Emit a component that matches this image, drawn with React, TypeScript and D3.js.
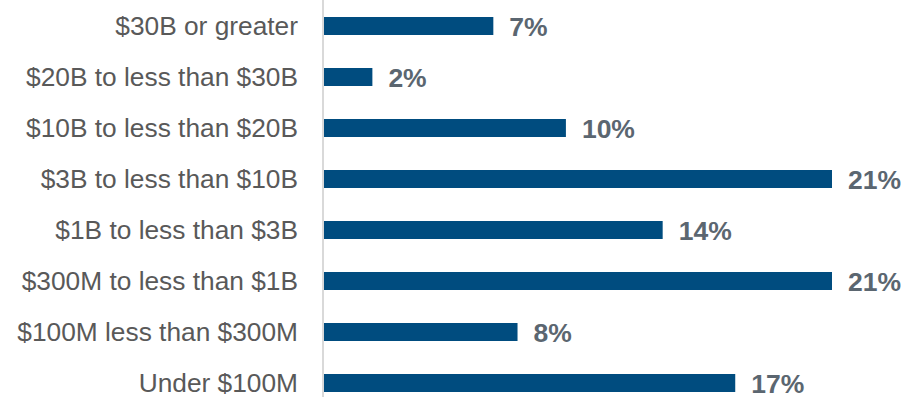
import React from "react";
import * as d3 from "d3";

const categories = [
  "$30B or greater",
  "$20B to less than $30B",
  "$10B to less than $20B",
  "$3B to less than $10B",
  "$1B to less than $3B",
  "$300M to less than $1B",
  "$100M less than $300M",
  "Under $100M",
];
const values = [7, 2, 10, 21, 14, 21, 8, 17];

const W = 919;
const H = 397;

export default function App() {
  const x = d3.scaleLinear().domain([0, 21]).range([324, 832]);
  const y = d3
    .scaleBand<string>()
    .domain(categories)
    .range([0.5, 408.5])
    .paddingInner(0.647)
    .paddingOuter(0.3235);
  const bh = y.bandwidth();
  const font = "'Liberation Sans', Arial, sans-serif";
  return (
    <svg
      width={W}
      height={H}
      style={{ position: "absolute", left: 0, top: 0, background: "#fff" }}
    >
      <line x1={323} x2={323} y1={0} y2={H} stroke="#d9d9d9" strokeWidth={2} />
      {categories.map((c, i) => {
        const yc = (y(c) as number) + bh / 2;
        return (
          <g key={c}>
            <rect
              x={x(0)}
              y={y(c)}
              width={x(values[i]) - x(0)}
              height={bh}
              fill="#004c7f"
            />
            <text
              x={298}
              y={yc}
              dy="0.36em"
              textAnchor="end"
              fontFamily={font}
              fontSize={26.3}
              fill="#595959"
            >
              {c}
            </text>
            <text
              x={x(values[i]) + 16}
              y={yc}
              dy="0.36em"
              fontFamily={font}
              fontSize={26.5}
              fontWeight="bold"
              fill="#5b6670"
            >
              {values[i] + "%"}
            </text>
          </g>
        );
      })}
    </svg>
  );
}
